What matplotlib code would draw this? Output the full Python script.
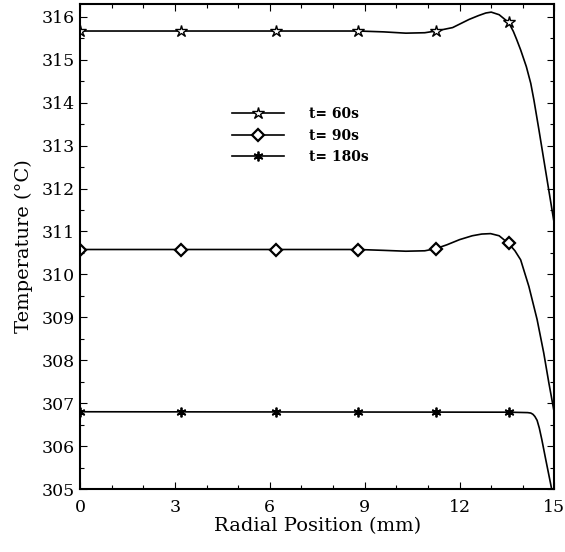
import matplotlib
matplotlib.use('Agg')
import matplotlib.pyplot as plt
from matplotlib.ticker import MultipleLocator

plt.rcParams['font.family'] = 'DejaVu Serif'

# marker positions along the radius (mm)
x_marks = [0, 3.2, 6.2, 8.8, 11.25, 13.55]
t60_marks = [315.67, 315.67, 315.67, 315.67, 315.67, 315.87]
t90_marks = [310.58, 310.58, 310.58, 310.58, 310.60, 310.72]
t180_marks = [306.80, 306.80, 306.80, 306.80, 306.80, 306.79]

# temperature profiles
x60 = [0, 8.8, 9.6, 10.3, 10.9, 11.25, 11.78, 12.3, 12.6, 12.83, 13.0, 13.25, 13.55,
       13.7, 13.8, 13.93, 14.11, 14.25, 14.35, 14.51, 14.66, 14.8, 15.0]
t60 = [315.67, 315.67, 315.65, 315.62, 315.63, 315.67, 315.75, 315.94, 316.03, 316.09,
       316.11, 316.05, 315.87, 315.66, 315.48, 315.23, 314.84, 314.45, 314.06, 313.36,
       312.68, 312.05, 311.15]

x90 = [0, 8.8, 9.6, 10.3, 10.9, 11.25, 11.6, 12.0, 12.4, 12.7, 12.98, 13.25, 13.55,
       13.75, 13.93, 14.19, 14.45, 14.66, 14.82, 15.0]
t90 = [310.58, 310.58, 310.56, 310.54, 310.55, 310.6, 310.69, 310.81, 310.9, 310.94,
       310.95, 310.9, 310.72, 310.55, 310.34, 309.72, 308.95, 308.17, 307.48, 306.75]

x180 = [0, 13.55, 14.15, 14.25, 14.32, 14.38, 14.45, 14.52, 14.6, 14.72, 14.87, 14.95]
t180 = [306.80, 306.79, 306.78, 306.77, 306.74, 306.69, 306.6, 306.42, 306.15, 305.7,
        305.15, 304.85]

labels = ['t= 60s', 't= 90s', 't= 180s']

fig = plt.figure(figsize=(5.65, 5.52), dpi=100)
ax = fig.add_axes([0.1416, 0.1141, 0.8398, 0.8787])

lw = 1.2
star = dict(marker='*', ms=9, mfc='white', mec='black', mew=1.0)
diamond = dict(marker='D', ms=6, mfc='white', mec='black', mew=1.6)
aster = dict(marker=(6, 2, 0), ms=7, mec='black', mew=1.3)

ax.plot(x60, t60, color='black', lw=lw)
ax.plot(x90, t90, color='black', lw=lw)
ax.plot(x180, t180, color='black', lw=lw)

ax.plot(x_marks, t60_marks, ls='none', **star)
ax.plot(x_marks, t90_marks, ls='none', **diamond)
ax.plot(x_marks, t180_marks, ls='none', **aster)

# legend entries combine line + marker
h1, = ax.plot([], [], color='black', lw=lw, **star)
h2, = ax.plot([], [], color='black', lw=lw, **diamond)
h3, = ax.plot([], [], color='black', lw=lw, **aster)
ax.legend([h1, h2, h3], labels, loc='upper left', bbox_to_anchor=(0.321, 0.787),
          frameon=False, prop={'weight': 'bold', 'size': 10},
          borderpad=0, borderaxespad=0,
          handlelength=3.7, handletextpad=1.8, labelspacing=0.52)

ax.set_xlim(0, 15)
ax.set_ylim(305, 316.3)
ax.xaxis.set_major_locator(MultipleLocator(3))
ax.xaxis.set_minor_locator(MultipleLocator(1))
ax.yaxis.set_major_locator(MultipleLocator(1))
ax.yaxis.set_minor_locator(MultipleLocator(0.5))
ax.tick_params(which='both', direction='in', top=True, right=True, labelsize=12.5)
ax.tick_params(which='major', length=5, width=0.8)
ax.tick_params(which='minor', length=3, width=0.8)
ax.tick_params(axis='x', pad=7)
ax.tick_params(axis='y', pad=4)
for s in ax.spines.values():
    s.set_linewidth(1.5)

ax.set_xlabel('Radial Position (mm)', fontsize=14, labelpad=1)
ax.set_ylabel('Temperature (°C)', fontsize=14, labelpad=6)

fig.savefig('out.png', dpi=100)
